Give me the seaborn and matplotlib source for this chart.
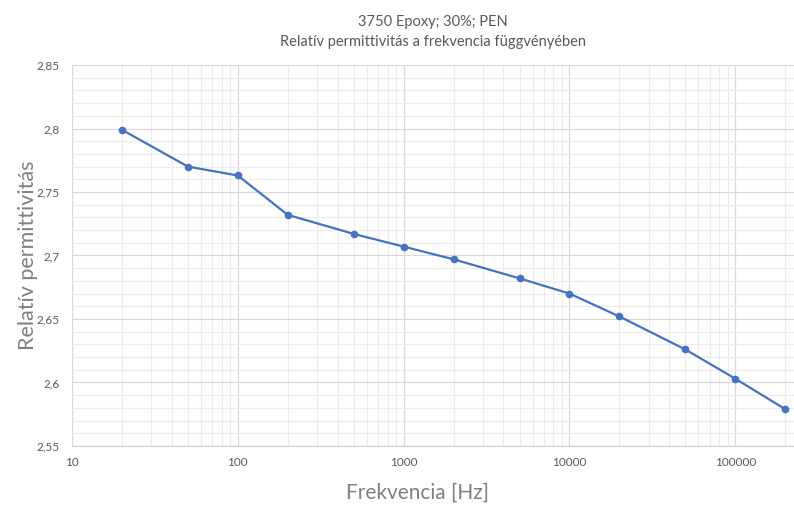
import numpy as np
import pandas as pd
import matplotlib
matplotlib.use("Agg")
import matplotlib.pyplot as plt
import matplotlib.ticker as mticker
import seaborn as sns

freq = [20, 50, 100, 200, 500, 1000, 2000, 5000, 10000, 20000, 50000, 100000, 200000]
eps_r = [2.799, 2.770, 2.763, 2.732, 2.717, 2.707, 2.697, 2.682, 2.670, 2.652, 2.626, 2.603, 2.579]
x_ticks = [10, 100, 1000, 10000, 100000]
y_ticks = [2.55, 2.6, 2.65, 2.7, 2.75, 2.8, 2.85]

df = pd.DataFrame({"freq": freq, "eps": eps_r})

sns.set_style("white")
plt.rcParams['font.family'] = ['Lato', 'DejaVu Sans']

fig = plt.figure(figsize=(7.94, 5.08), dpi=100)
ax = fig.add_axes([72/794, 1-446/508, 1-72/794, (446-65)/508])

sns.lineplot(data=df, x="freq", y="eps", ax=ax, color="#4472C4", linewidth=1.6,
             marker="o", markersize=5.5, markeredgewidth=0, zorder=5)

ax.set_xscale("log")
ax.set_xlim(10, 226000)
ax.set_ylim(2.55, 2.85)
ax.set_xticks(x_ticks)
ax.xaxis.set_major_formatter(mticker.FuncFormatter(lambda v, p: "%d" % v))
ax.xaxis.set_minor_locator(mticker.LogLocator(base=10, subs=np.arange(2, 10)))
ax.xaxis.set_minor_formatter(mticker.NullFormatter())
ax.set_yticks(y_ticks)
ax.yaxis.set_major_formatter(mticker.FuncFormatter(lambda v, p: ("%g" % round(v, 2)).replace(".", ",")))
ax.yaxis.set_minor_locator(mticker.MultipleLocator(0.01))

ax.grid(which="major", color="#d9d9d9", linewidth=0.9)
ax.grid(which="minor", color="#ececec", linewidth=0.8)
ax.set_axisbelow(True)
for s in ["top", "right", "left"]:
    ax.spines[s].set_visible(False)
ax.spines["bottom"].set_color("#d0d0d0")
ax.tick_params(which="both", length=0, labelsize=8.5, labelcolor="#595959")
ax.tick_params(axis="x", pad=8)
ax.tick_params(axis="y", pad=9)

ax.set_xlabel("Frekvencia [Hz]", fontsize=15, color="#808080", va="center")
ax.xaxis.set_label_coords((417-72)/722, (446-493)/381)
ax.set_ylabel("Relatív permittivitás", fontsize=15.5, color="#808080", va="center")
ax.yaxis.set_label_coords((28-72)/722, 0.5)
ax.set_title("3750 Epoxy; 30%; PEN\nRelatív permittivitás a frekvencia függvényében",
             fontsize=10.5, color="#595959", pad=14, linespacing=1.55)

fig.savefig("out.png", dpi=100)
